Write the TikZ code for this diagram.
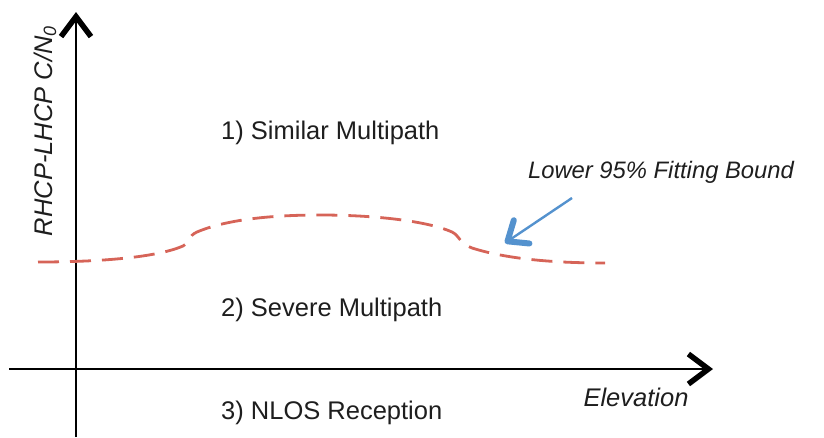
\documentclass[tikz,border=0pt]{standalone}
\usepackage{fontspec}
\setmainfont{Liberation Sans}
\usetikzlibrary{arrows.meta}
\begin{document}
\begin{tikzpicture}[x=1pt,y=-1pt,
  axis/.style={line width=2.6pt,-{Straight Barb[length=20pt,width=30pt,line width=5.5pt]}},
  bound/.style={draw={rgb,255:red,214;green,100;blue,88},line width=2.8pt,dash pattern=on 21pt off 11pt},
  pointer/.style={draw={rgb,255:red,84;green,146;blue,206},line width=2.4pt,-{Straight Barb[length=17pt,width=28pt,line width=6pt,round]}},
  lbl/.style={font=\fontsize{25.5}{28}\selectfont,text={rgb,255:red,30;green,30;blue,30},inner sep=0pt},
  ilbl/.style={lbl,font=\fontsize{25.5}{28}\selectfont\itshape}
]
\useasboundingbox (0,0) rectangle (824,437);

% axes
\coordinate (yb) at (76,437);
\coordinate (yt) at (76,12);
\coordinate (xl) at (9,369);
\coordinate (xr) at (713,369);
\draw[axis] (yb) -- (yt);
\draw[axis] (xl) -- (xr);

% axis labels
\node[ilbl,rotate=90] (ylab) at (45,131) {RHCP-LHCP C/N$_{\mathit{0}}$};
\node[ilbl] (xlab) at (636,397) {Elevation};

% region labels
\node[lbl,anchor=west] (r1) at (221,133) {1) Similar Multipath};
\node[lbl,anchor=west] (r2) at (221,310) {2) Severe Multipath};
\node[lbl,anchor=west] (r3) at (221,413) {3) NLOS Reception};

% fitting bound curve
\draw[bound] (38,262) .. controls (110,262) and (160,256) .. (183,246)
  .. controls (190,242) and (188,236) .. (197,232)
  .. controls (230,218) and (280,215) .. (320,215)
  .. controls (380,215) and (430,222) .. (452,232)
  .. controls (460,236) and (458,242) .. (472,248)
  .. controls (510,260) and (560,263) .. (605,263);

% annotation
\node[ilbl,font=\fontsize{23.8}{27}\selectfont\itshape] (note) at (661,172) {Lower 95\% Fitting Bound};
\coordinate (ptail) at (572,198);
\coordinate (phead) at (505,243);
\draw[pointer] (ptail) -- (phead);
\end{tikzpicture}
\end{document}
